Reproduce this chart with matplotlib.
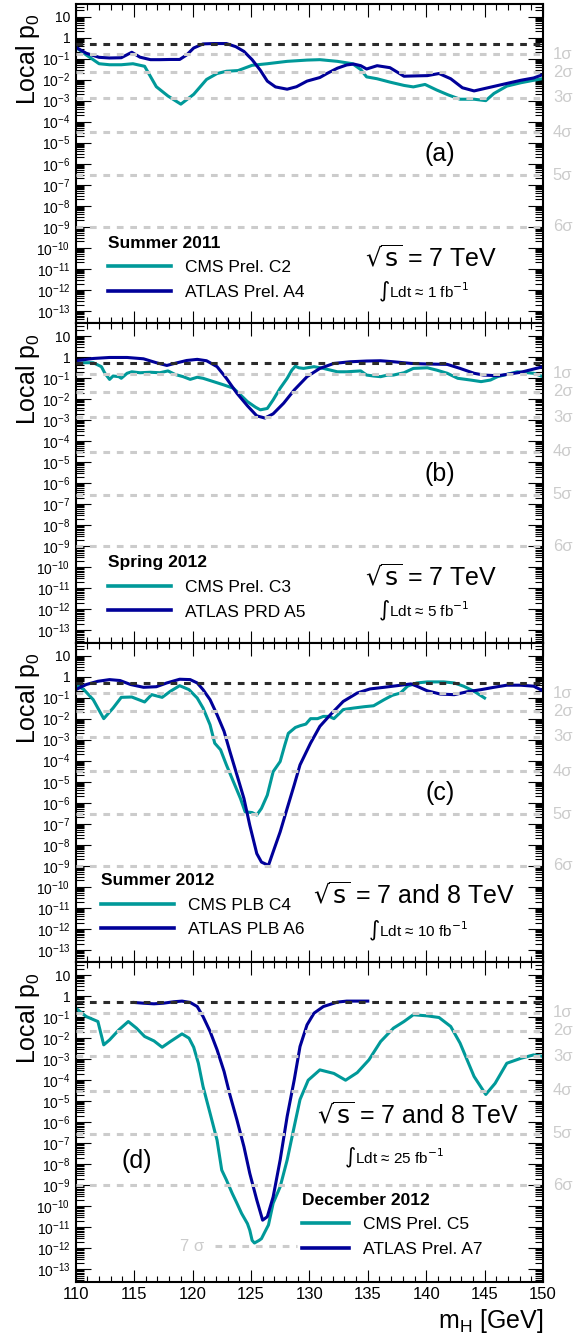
import matplotlib
matplotlib.use("Agg")
import matplotlib.pyplot as plt
from matplotlib.ticker import LogLocator, FixedLocator, FuncFormatter, NullFormatter, MultipleLocator
import numpy as np

plt.rcParams['font.family'] = ['Liberation Sans', 'DejaVu Sans']
plt.rcParams['mathtext.fontset'] = 'custom'
plt.rcParams['mathtext.rm'] = 'Liberation Sans'
plt.rcParams['mathtext.it'] = 'Liberation Sans:italic'
plt.rcParams['mathtext.bf'] = 'Liberation Sans:bold'

# ---- data (mH in GeV, local p0) ----
# (a) Summer 2011
cms_a_m = [110.0, 110.9, 112.0, 112.9, 113.9, 114.9, 115.9, 116.9, 117.9, 119.0,
           120.1, 121.2, 122.1, 122.9, 123.9, 125.1, 126.4, 128.1, 129.8, 130.9,
           132.4, 133.7, 134.4, 134.9, 135.8, 136.9, 138.1, 138.9, 139.9, 140.9,
           141.9, 142.9, 144.1, 145.1, 145.8, 146.9, 148.1, 149.2, 150.0]
cms_a_p = [0.35, 0.15, 0.057, 0.051, 0.051, 0.057, 0.043, 4.6e-3, 1.66e-3, 6.8e-4,
           2.0e-3, 0.0102, 0.0195, 0.025, 0.027, 0.048, 0.057, 0.074, 0.085, 0.089,
           0.074, 0.057, 0.030, 0.0135, 0.011, 7.6e-3, 5.3e-3, 4.5e-3, 5.9e-3, 3.2e-3,
           1.86e-3, 1.17e-3, 1.17e-3, 1.0e-3, 2.2e-3, 4.9e-3, 7.1e-3, 9.3e-3, 0.0112]
atlas_a_m = [110.0, 110.9, 112.0, 112.9, 113.9, 114.8, 115.5, 116.4, 117.2, 118.1,
             118.9, 119.5, 120.1, 120.9, 121.8, 122.9, 123.7, 124.4, 125.1, 125.8,
             126.4, 127.1, 128.1, 128.9, 129.8, 130.9, 131.5, 132.4, 133.2, 133.8,
             134.4, 134.9, 135.8, 136.9, 138.1, 139.2, 140.1, 141.1, 142.1, 143.1,
             144.1, 145.2, 146.7, 148.1, 149.2, 150.0]
atlas_a_p = [0.35, 0.18, 0.115, 0.107, 0.11, 0.20, 0.117, 0.089, 0.089, 0.091,
             0.091, 0.15, 0.32, 0.50, 0.52, 0.52, 0.37, 0.22, 0.089, 0.028,
             8.5e-3, 4.5e-3, 3.5e-3, 4.6e-3, 8.5e-3, 0.0126, 0.0195, 0.035, 0.050, 0.055,
             0.046, 0.032, 0.046, 0.037, 0.0145, 0.0151, 0.0155, 0.0195, 0.011, 4.1e-3,
             2.9e-3, 4.0e-3, 6.2e-3, 9.3e-3, 0.012, 0.0174]

# (b) Spring 2012
cms_b_m = [110.0, 110.7, 111.5, 112.2, 112.5, 112.9, 113.2, 113.7, 113.9, 114.4,
           114.8, 115.5, 116.4, 117.2, 117.9, 118.5, 119.2, 119.8, 120.4, 120.9,
           121.8, 122.7, 123.5, 124.1, 124.7, 125.4, 125.8, 126.4, 126.9, 127.5,
           128.1, 128.5, 128.8, 129.1, 129.5, 130.4, 131.2, 132.4, 133.2, 134.4,
           134.9, 135.5, 136.1, 136.7, 137.2, 138.1, 138.9, 140.1, 140.9, 141.8,
           142.7, 143.8, 144.7, 145.5, 146.1, 146.9, 147.8, 148.7, 149.2, 150.0]
cms_b_p = [0.50, 0.54, 0.54, 0.35, 0.17, 0.087, 0.126, 0.117, 0.098, 0.17,
           0.20, 0.18, 0.19, 0.18, 0.22, 0.15, 0.117, 0.087, 0.11, 0.098,
           0.068, 0.047, 0.033, 0.016, 7.6e-3, 4.1e-3, 3.1e-3, 3.6e-3, 9.2e-3, 0.033,
           0.098, 0.24, 0.37, 0.31, 0.29, 0.35, 0.29, 0.20, 0.20, 0.22,
           0.14, 0.126, 0.117, 0.14, 0.14, 0.18, 0.29, 0.31, 0.24, 0.17,
           0.098, 0.081, 0.068, 0.081, 0.117, 0.15, 0.20, 0.18, 0.17, 0.117]
atlas_b_m = [110.0, 111.5, 112.9, 114.4, 115.8, 116.9, 117.8, 118.7, 119.5, 120.4,
             121.2, 122.1, 122.9, 123.8, 124.7, 125.5, 126.2, 126.9, 127.8, 128.7,
             129.8, 130.9, 132.1, 133.5, 134.9, 136.1, 137.2, 138.7, 140.1, 141.8,
             142.9, 144.1, 144.9, 146.1, 146.9, 148.1, 149.2, 150.0]
atlas_b_p = [0.67, 0.86, 0.96, 0.96, 0.83, 0.54, 0.40, 0.54, 0.69, 0.78,
             0.67, 0.35, 0.098, 0.019, 4.8e-3, 1.6e-3, 1.26e-3, 2.0e-3, 6.4e-3, 0.027,
             0.117, 0.29, 0.50, 0.60, 0.65, 0.67, 0.60, 0.50, 0.47, 0.45,
             0.29, 0.17, 0.14, 0.13, 0.15, 0.19, 0.27, 0.35]

# (c) Summer 2012
cms_c_m = [110.0, 110.7, 111.5, 112.4, 113.2, 113.9, 114.8, 115.9, 116.5, 117.4,
           118.1, 118.9, 119.7, 120.4, 120.9, 121.5, 121.9, 122.4, 122.9, 123.5,
           124.1, 124.5, 125.1, 125.5, 125.9, 126.4, 126.9, 127.5, 127.9, 128.2,
           128.8, 129.2, 129.7, 130.1, 130.7, 131.2, 131.7, 132.1, 132.9, 133.8,
           134.7, 135.5, 136.4, 137.1, 137.8, 138.4, 139.2, 140.1, 141.5, 142.4,
           143.2, 144.1, 145.0]
cms_c_p = [0.42, 0.24, 0.080, 0.010, 0.032, 0.103, 0.107, 0.062, 0.139, 0.103,
           0.20, 0.37, 0.24, 0.096, 0.032, 5.1e-3, 6.8e-4, 3.3e-4, 6.3e-5, 1.0e-5,
           1.6e-6, 3.7e-7, 3.4e-7, 2.6e-7, 5.4e-7, 2.3e-6, 3.0e-5, 9.1e-5, 5.6e-4, 2.0e-3,
           3.8e-3, 4.6e-3, 5.5e-3, 0.010, 0.010, 0.0128, 0.0128, 0.010, 0.027, 0.032,
           0.037, 0.041, 0.080, 0.129, 0.166, 0.35, 0.50, 0.56, 0.56, 0.50,
           0.35, 0.20, 0.096]
atlas_c_m = [110.0, 110.9, 111.9, 112.9, 113.8, 114.7, 115.8, 116.9, 117.8, 118.9,
             119.8, 120.4, 120.9, 121.5, 122.1, 122.7, 123.2, 123.8, 124.4, 124.9,
             125.5, 125.9, 126.5, 126.9, 127.5, 128.1, 128.7, 129.2, 130.1, 130.9,
             131.8, 132.9, 134.1, 135.2, 136.4, 137.5, 138.7, 139.2, 140.1, 141.2,
             142.4, 143.5, 144.7, 145.8, 146.9, 148.1, 149.2, 150.0]
atlas_c_p = [0.24, 0.42, 0.60, 0.72, 0.65, 0.42, 0.31, 0.33, 0.50, 0.75,
             0.72, 0.50, 0.24, 0.080, 0.0154, 2.5e-3, 2.7e-4, 2.1e-5, 1.6e-6, 8.5e-8,
             3.8e-9, 1.5e-9, 1.05e-9, 4.6e-9, 4.1e-8, 5.4e-7, 6.9e-6, 6.3e-5, 6.8e-4, 4.3e-3,
             0.0154, 0.066, 0.166, 0.26, 0.31, 0.37, 0.45, 0.35, 0.21, 0.148,
             0.138, 0.19, 0.24, 0.31, 0.39, 0.39, 0.35, 0.21]

# (d) December 2012
cms_d_m = [110.0, 110.9, 111.9, 112.4, 112.9, 113.7, 114.5, 115.2, 115.9, 116.7,
           117.4, 118.1, 119.1, 119.7, 120.1, 120.5, 120.9, 121.5, 122.1, 122.5,
           122.9, 123.4, 123.8, 124.2, 124.7, 124.9, 125.1, 125.3, 125.7, 125.9,
           126.2, 126.5, 126.9, 127.5, 128.1, 128.7, 129.2, 129.9, 130.9, 132.1,
           133.1, 134.1, 135.1, 136.1, 137.2, 138.1, 138.9, 140.1, 141.1, 142.1,
           142.9, 144.1, 145.1, 145.9, 146.9, 148.1, 149.2, 150.0]
cms_d_p = [0.27, 0.107, 0.062, 4.8e-3, 8.3e-3, 0.025, 0.062, 0.030, 0.012, 7.4e-3,
           3.7e-3, 6.9e-3, 0.016, 0.010, 3.7e-3, 6.4e-4, 5.0e-5, 2.7e-6, 1.4e-7, 5.3e-9,
           1.8e-9, 4.1e-10, 1.4e-10, 4.6e-11, 1.5e-11, 7.3e-12, 2.4e-12, 1.8e-12, 2.4e-12, 2.9e-12,
           6.2e-12, 1.3e-11, 1.4e-10, 8.5e-10, 1.6e-8, 6.1e-7, 1.2e-5, 1.0e-4, 3.1e-4, 2.1e-4,
           1.0e-4, 2.3e-4, 9.3e-4, 6.9e-3, 0.030, 0.062, 0.13, 0.115, 0.096, 0.036,
           5.8e-3, 1.5e-4, 2.1e-5, 7.1e-5, 6.4e-4, 1.1e-3, 1.6e-3, 1.35e-3]
atlas_d_m = [115.0, 115.8, 116.7, 117.5, 118.4, 119.1, 119.8, 120.4, 120.9, 121.5,
             122.1, 122.7, 123.2, 123.8, 124.4, 124.9, 125.5, 126.0, 126.4, 126.9,
             127.5, 128.1, 128.7, 129.2, 129.8, 130.4, 131.2, 132.4, 133.2, 135.0]
atlas_d_p = [0.50, 0.46, 0.43, 0.46, 0.54, 0.58, 0.50, 0.32, 0.107, 0.021,
             2.8e-3, 2.6e-4, 2.0e-5, 1.3e-6, 6.9e-8, 3.7e-9, 2.0e-10, 2.2e-11, 3.2e-11, 2.8e-10,
             1.6e-8, 1.9e-6, 1.0e-4, 4.0e-3, 0.043, 0.155, 0.32, 0.52, 0.58, 0.58]

sigma_p = [0.1587, 0.02275, 1.35e-3, 3.17e-5, 2.87e-7, 9.87e-10]
sigma_labels = ['1σ', '2σ', '3σ', '4σ', '5σ', '6σ']
p_7sigma = 1.28e-12

# labelled decades on the y axis
y_decades = [1e1, 1e0, 1e-1, 1e-2, 1e-3, 1e-4, 1e-5, 1e-6, 1e-7, 1e-8,
             1e-9, 1e-10, 1e-11, 1e-12, 1e-13]

panel_tags = ['(a)', '(b)', '(c)', '(d)']
periods = ['Summer 2011', 'Spring 2012', 'Summer 2012', 'December 2012']
cms_names = ['CMS Prel. C2', 'CMS Prel. C3', 'CMS PLB C4', 'CMS Prel. C5']
atlas_names = ['ATLAS Prel. A4', 'ATLAS PRD A5', 'ATLAS PLB A6', 'ATLAS Prel. A7']
energies = ['7 TeV', '7 TeV', '7 and 8 TeV', '7 and 8 TeV']
lumis = ['1', '5', '10', '25']

cms_m = [cms_a_m, cms_b_m, cms_c_m, cms_d_m]
cms_p = [cms_a_p, cms_b_p, cms_c_p, cms_d_p]
atlas_m = [atlas_a_m, atlas_b_m, atlas_c_m, atlas_d_m]
atlas_p = [atlas_a_p, atlas_b_p, atlas_c_p, atlas_d_p]

CMS_COL = '#009999'
ATLAS_COL = '#000099'
GREY = '#cccccc'

# text placement per panel (axes fraction)
tag_xy = [(0.78, 0.53), (0.78, 0.53), (0.78, 0.53), (0.13, 0.38)]
leg_xy = [(0.07, 0.275), (0.07, 0.275), (0.055, 0.28), (0.485, 0.28)]
leg_hl = [3.6, 3.6, 4.2, 2.7]
sqrts_xy = [(0.76, 0.205), (0.76, 0.205), (0.723, 0.21), (0.733, 0.523)]
lumi_xy = [(0.745, 0.10), (0.745, 0.10), (0.733, 0.10), (0.681, 0.387)]


def ytick_fmt(v, pos):
    e = int(round(np.log10(v)))
    if e == 1:
        return '10'
    if e == 0:
        return '1'
    return '$10^{%d}$' % e


fig = plt.figure(figsize=(5.77, 13.38), dpi=100)
left, width = 0.1312, 0.8099
h = 0.2388
bottoms = [0.04185 + 3 * h, 0.04185 + 2 * h, 0.04185 + h, 0.04185]

for i in range(4):
    ax = fig.add_axes([left, bottoms[i], width, h])
    ax.set_yscale('log')
    ax.set_xlim(110, 150)
    ax.set_ylim(10 ** -13.6, 10 ** 1.6)

    l1, = ax.plot(cms_m[i], cms_p[i], color=CMS_COL, lw=2.2, zorder=2)
    l2, = ax.plot(atlas_m[i], atlas_p[i], color=ATLAS_COL, lw=2.2, zorder=2)

    # significance lines
    for sp, sl in zip(sigma_p, sigma_labels):
        ax.axhline(sp, color=GREY, lw=2.2, ls=(0, (2.2, 2.2)), zorder=3)
        ax.text(1.021, sp, sl, transform=ax.get_yaxis_transform(), color=GREY,
                fontsize=12, ha='left', va='center', clip_on=False)
    ax.axhline(0.5, color='#2b2b2b', lw=2.2, ls=(0, (2.2, 2.2)), zorder=3)
    if i == 3:
        ax.hlines(p_7sigma, 121.9, 128.9, color=GREY, lw=2.2, ls=(0, (2.2, 2.2)), zorder=3)
        ax.text(121.0, p_7sigma, '7 σ', color=GREY, fontsize=12, ha='right', va='center')

    leg = ax.legend([l1, l2], [cms_names[i], atlas_names[i]], title=periods[i],
                    loc='upper left', bbox_to_anchor=leg_xy[i], frameon=False,
                    alignment='left', fontsize=12.5,
                    title_fontproperties={'weight': 'bold', 'size': 12.5},
                    handlelength=leg_hl[i], handletextpad=0.8, labelspacing=0.55,
                    borderpad=0, borderaxespad=0)
    for ln in leg.get_lines():
        ln.set_linewidth(2.6)

    ax.text(*tag_xy[i], panel_tags[i], transform=ax.transAxes, fontsize=18,
            ha='center', va='center')
    ax.text(*sqrts_xy[i], r'$\sqrt{\mathrm{s}}$ = ' + energies[i], transform=ax.transAxes,
            fontsize=18, ha='center', va='center', math_fontfamily='dejavusans')
    ax.text(*lumi_xy[i], r'$\int$Ldt ≈ ' + lumis[i] + r' fb$^{\mathrm{-1}}$',
            transform=ax.transAxes, fontsize=11, ha='center', va='center',
            math_fontfamily='dejavusans')

    # ticks
    ax.yaxis.set_major_locator(FixedLocator(y_decades))
    ax.yaxis.set_minor_locator(LogLocator(base=10, subs=np.arange(2, 10), numticks=100))
    ax.yaxis.set_major_formatter(FuncFormatter(ytick_fmt))
    ax.yaxis.set_minor_formatter(NullFormatter())
    ax.xaxis.set_major_locator(MultipleLocator(5))
    ax.xaxis.set_minor_locator(MultipleLocator(1))
    ax.tick_params(axis='both', which='both', direction='in', top=True, right=True, width=0.8)
    ax.tick_params(axis='y', which='major', length=11, labelsize=10, pad=4)
    ax.tick_params(axis='y', which='minor', length=5.5)
    ax.tick_params(axis='x', which='major', length=9, labelsize=12, pad=3.5)
    ax.tick_params(axis='x', which='minor', length=4.5)
    for s in ax.spines.values():
        s.set_linewidth(1.5)

    ax.set_ylabel(r'Local p$_{\mathrm{0}}$', fontsize=18, loc='top')
    ax.yaxis.set_label_coords(-0.072, 0.97)
    if i < 3:
        ax.set_xticklabels([])
        ax.tick_params(axis='x', labelbottom=False)
    else:
        ax.set_xlabel(r'm$_{\mathrm{H}}$ [GeV]', fontsize=18, loc='right', labelpad=4)

fig.savefig('out.png', dpi=100)
